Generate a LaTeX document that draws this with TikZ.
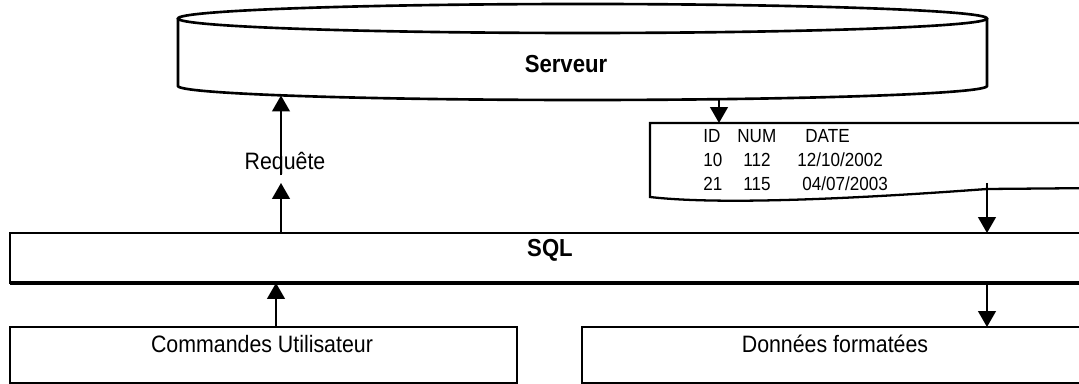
\documentclass[tikz,border=0pt]{standalone}
\usepackage{fontspec}
\setmainfont{Liberation Sans}[FakeStretch=0.9]
\usetikzlibrary{arrows.meta}

\tikzset{
  box/.style={draw, line width=1.3pt, inner sep=0pt, outer sep=0pt, anchor=south west},
  lbl/.style={font=\fontsize{13.5}{16}\selectfont, inner sep=0pt, anchor=base},
  title/.style={lbl, font=\fontsize{14}{17}\selectfont\bfseries},
  data/.style={font=\fontsize{10.8}{13}\selectfont, inner sep=0pt, anchor=base west},
  arr/.style={line width=1.2pt, -{Triangle[width=10pt,length=9pt]}},
  cyl/.style={line width=1.5pt},
}

\begin{document}
\begin{tikzpicture}
  \useasboundingbox (0,0) rectangle (21.58,7.68);
  % serveur
  \draw[cyl] (11.65,7.31) ellipse[x radius=8.09, y radius=0.29];
  \draw[cyl] (3.56,7.31) -- (3.56,5.96) arc[start angle=180, end angle=360, x radius=8.09, y radius=0.28] -- (19.74,7.31);
  \node[title] (srv) at (11.32,6.22) {Serveur};
  \coordinate (srvq) at (5.62,5.77);
  \coordinate (srvd) at (14.38,5.70);

  % resultat de la requete
  \draw[line width=1.3pt] (22,3.92) -- (19.74,3.90) .. controls (16.5,3.66) and (14.2,3.60) .. (13.0,3.74) -- (13.0,5.22) -- (22,5.22);
  \coordinate (resin) at (14.38,5.22);
  \coordinate (resout) at (19.74,4.02);
  \foreach \x/\y/\t [count=\i] in {14.06/4.82/ID, 14.74/4.82/NUM, 16.10/4.82/DATE,
      14.06/4.34/10, 14.86/4.34/112, 15.94/4.34/{12/10/2002},
      14.06/3.86/21, 14.86/3.86/115, 16.04/3.86/{04/07/2003}}
    \node[data] (d\i) at (\x,\y) {\t};

  % boites
  \node[box, minimum width=21.8cm, minimum height=1cm] (sql) at (0.2,2.02) {};
  \draw[line width=2.2pt] (sql.south west) -- (sql.south east);
  \node[title] (sqltxt) at (11.0,2.54) {SQL};
  \node[box, minimum width=10.14cm, minimum height=1.12cm] (cmd) at (0.2,0.02) {};
  \node[lbl] (cmdtxt) at (5.24,0.62) {Commandes Utilisateur};
  \node[box, minimum width=10.36cm, minimum height=1.12cm] (don) at (11.64,0.02) {};
  \node[lbl] (dontxt) at (16.70,0.62) {Données formatées};

  % fleches
  \coordinate (xcmd) at (5.52,0);
  \coordinate (xreq) at (5.62,0);
  \coordinate (xout) at (19.74,0);
  \coordinate (reqlow) at (5.62,4.02);
  \node[lbl] (req) at (5.70,4.28) {Requête};
  \draw[arr] (cmd.north -| xcmd) -- (sql.south -| xcmd);
  \draw[arr] (sql.north -| xreq) -- (reqlow);
  \draw[arr] (req.south -| xreq) -- (srvq);
  \draw[arr] (srvd) -- (resin);
  \draw[arr] (resout) -- (sql.north -| xout);
  \draw[arr] (sql.south -| xout) -- (don.north -| xout);
\end{tikzpicture}
\end{document}
